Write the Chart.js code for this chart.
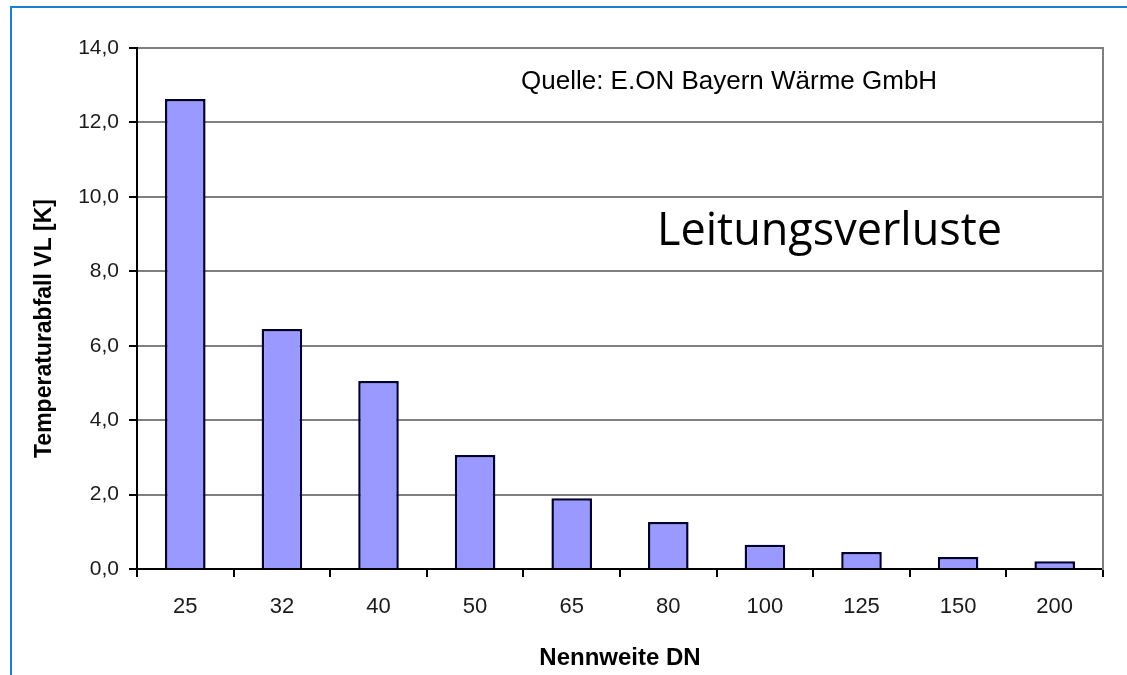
<!DOCTYPE html>
<html>
<head>
<meta charset="utf-8">
<script src="https://cdn.jsdelivr.net/npm/chart.js@4.4.1/dist/chart.umd.min.js"></script>
<style>
  html, body { margin: 0; padding: 0; background: #ffffff; }
  #frame {
    position: absolute; left: 10px; top: 6px; width: 1117px; height: 669px;
    border-left: 2px solid #1a7fd4; border-top: 2px solid #1a7fd4;
    box-sizing: border-box;
  }
  #wrap { position: absolute; left: 0; top: 0; width: 1127px; height: 675px; }
</style>
</head>
<body>
<div id="frame"></div>
<div id="wrap"><canvas id="graph_1"></canvas></div>
<script>
// Nennweiten (Kategorien) und Temperaturabfall
const nennweiten = ['25', '32', '40', '50', '65', '80', '100', '125', '150', '200'];
const temperaturabfall = [12.63, 6.45, 5.05, 3.06, 1.9, 1.26, 0.65, 0.46, 0.32, 0.21];
const y_ticks = [0, 2, 4, 6, 8, 10, 12, 14];
const quelle_text = 'Quelle: E.ON Bayern Wärme GmbH';
const titel_text = 'Leitungsverluste';
const y_titel = 'Temperaturabfall VL [K]';

// Texte im Diagramm (Y-Titel etwas unterhalb der Mitte, wie im Original)
const text_plugin = {
  id: 'text_plugin',
  afterDraw(chart) {
    const ctx = chart.ctx;
    const area = chart.chartArea;
    ctx.save();
    ctx.fillStyle = '#000000';
    ctx.textBaseline = 'middle';
    ctx.textAlign = 'left';
    ctx.font = '26px "Liberation Sans", Arial, sans-serif';
    ctx.fillText(quelle_text, area.left + 384, area.top + 34);
    ctx.font = '45px "Open Sans", "Noto Sans", sans-serif';
    ctx.fillText(titel_text, area.left + 520, area.top + 184);
    ctx.translate(45, (area.top + area.bottom) / 2 + 20);
    ctx.rotate(-Math.PI / 2);
    ctx.textAlign = 'center';
    ctx.font = 'bold 23px "Liberation Sans", Arial, sans-serif';
    ctx.fillText(y_titel, 0, 0);
    ctx.restore();
  }
};

const context = document.getElementById('graph_1').getContext('2d');
const graph = new Chart(context, {
  type: 'bar',
  data: {
    labels: nennweiten,
    datasets: [{
      data: temperaturabfall,
      backgroundColor: '#9999ff',
      borderColor: '#000033',
      borderWidth: 2.5,
      borderSkipped: 'bottom',
      barPercentage: 0.42,
      categoryPercentage: 1.0
    }]
  },
  options: {
    responsive: true,
    maintainAspectRatio: false,
    animation: false,
    layout: { padding: { left: 0, top: 48, right: 22, bottom: 0 } },
    plugins: { legend: { display: false }, tooltip: { enabled: false } },
    scales: {
      x: {
        offset: true,
        afterFit: axis => { axis.height = 106; },
        grid: { offset: true, drawOnChartArea: false, color: '#000000', tickLength: 8, lineWidth: 2 },
        border: { color: '#000000', width: 2 },
        ticks: { color: '#1a1a1a', font: { family: '"Liberation Sans", Arial', size: 22 }, padding: 17 },
        title: { display: true, text: 'Nennweite DN', color: '#000000',
          font: { family: '"Liberation Sans", Arial', size: 24, weight: 'bold' }, padding: { top: 0, bottom: 2 } }
      },
      y: {
        min: 0, max: 14,
        afterFit: axis => { axis.width = 137; },
        afterBuildTicks: axis => { axis.ticks = y_ticks.map(v => ({ value: v })); },
        grid: { color: '#7f7f7f', lineWidth: 2, tickColor: '#000000', tickLength: 8 },
        border: { color: '#000000', width: 2 },
        ticks: {
          color: '#1a1a1a', font: { family: '"Liberation Sans", Arial', size: 21 }, padding: 10,
          callback: v => v.toFixed(1).replace('.', ',')
        }
      },
      yr: {
        position: 'right', min: 0, max: 14,
        afterFit: axis => { axis.width = 2; },
        ticks: { display: false },
        grid: { display: false },
        border: { color: '#7f7f7f', width: 2 }
      }
    }
  },
  plugins: [text_plugin]
});
</script>
</body>
</html>
